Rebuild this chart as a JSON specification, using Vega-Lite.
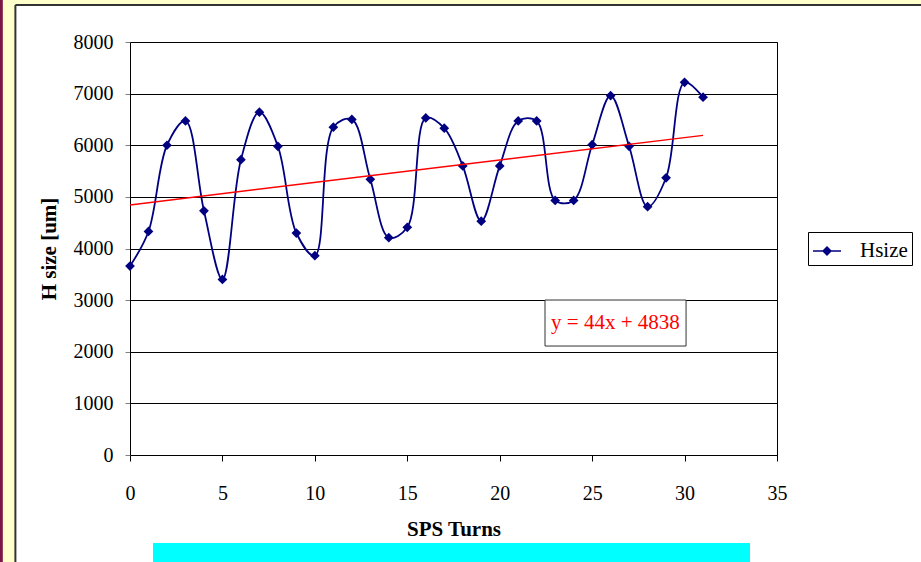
{
  "$schema": "https://vega.github.io/schema/vega-lite/v6.json",
  "width": 647,
  "height": 413,
  "autosize": {"type": "none"},
  "padding": {"left": 130, "top": 42, "right": 144, "bottom": 107},
  "background": "white",
  "config": {
    "font": "Times New Roman, Liberation Serif, serif",
    "view": {"stroke": "#000", "strokeWidth": 1},
    "axis": {"labelFont": "Times New Roman, Liberation Serif, serif", "titleFont": "Times New Roman, Liberation Serif, serif", "labelColor": "#000", "titleColor": "#000"},
    "legend": {"labelFont": "Times New Roman, Liberation Serif, serif"},
    "text": {"font": "Times New Roman, Liberation Serif, serif"}
  },
  "datasets": {
    "hsize": [
      {"turn": 0, "hsize": 3660}, {"turn": 1, "hsize": 4330}, {"turn": 2, "hsize": 6000}, {"turn": 3, "hsize": 6470},
      {"turn": 4, "hsize": 4730}, {"turn": 5, "hsize": 3400}, {"turn": 6, "hsize": 5720}, {"turn": 7, "hsize": 6640},
      {"turn": 8, "hsize": 5980}, {"turn": 9, "hsize": 4300}, {"turn": 10, "hsize": 3860}, {"turn": 11, "hsize": 6350},
      {"turn": 12, "hsize": 6500}, {"turn": 13, "hsize": 5340}, {"turn": 14, "hsize": 4210}, {"turn": 15, "hsize": 4410},
      {"turn": 16, "hsize": 6530}, {"turn": 17, "hsize": 6330}, {"turn": 18, "hsize": 5600}, {"turn": 19, "hsize": 4530},
      {"turn": 20, "hsize": 5600}, {"turn": 21, "hsize": 6470}, {"turn": 22, "hsize": 6470}, {"turn": 23, "hsize": 4930},
      {"turn": 24, "hsize": 4930}, {"turn": 25, "hsize": 6010}, {"turn": 26, "hsize": 6960}, {"turn": 27, "hsize": 5980},
      {"turn": 28, "hsize": 4810}, {"turn": 29, "hsize": 5370}, {"turn": 30, "hsize": 7220}, {"turn": 31, "hsize": 6930}
    ],
    "one": [{"k": 1}]
  },
  "layer": [
    {
      "data": {"name": "one"},
      "mark": {"type": "rect", "fill": "#FFFFCC", "strokeWidth": 0},
      "encoding": {"x": {"datum": -7.2}, "x2": {"datum": -6.2}, "y": {"datum": 9200}, "y2": {"datum": -3000}}
    },
    {
      "data": {"name": "one"},
      "mark": {"type": "rect", "fill": "#FFFFCC", "strokeWidth": 0},
      "encoding": {"x": {"datum": -7.2}, "x2": {"datum": 50}, "y": {"datum": 9200}, "y2": {"datum": 8717}}
    },
    {
      "data": {"name": "one"},
      "mark": {"type": "rect", "fill": "#7A1848", "strokeWidth": 0},
      "encoding": {"x": {"datum": -7.2}, "x2": {"datum": -6.88}, "y": {"datum": 9200}, "y2": {"datum": -3000}}
    },
    {
      "data": {"name": "one"},
      "mark": {"type": "rule", "color": "#333333", "strokeWidth": 2},
      "encoding": {"x": {"datum": -6.2}, "y": {"datum": 8717}, "y2": {"datum": -3000}}
    },
    {
      "data": {"name": "one"},
      "mark": {"type": "rule", "color": "#333333", "strokeWidth": 2},
      "encoding": {"x": {"datum": -6.2}, "x2": {"datum": 50}, "y": {"datum": 8717}}
    },
    {
      "data": {"name": "one"},
      "mark": {"type": "rect", "fill": "#00FFFF", "strokeWidth": 0},
      "encoding": {"x": {"datum": 1.244}, "x2": {"datum": 33.54}, "y": {"datum": -1704}, "y2": {"datum": -2600}}
    },
    {
      "data": {"name": "hsize"},
      "mark": {
        "type": "line",
        "interpolate": "catmull-rom",
        "strokeWidth": 1.8,
        "point": {"shape": "diamond", "size": 95, "filled": true, "color": "#000080"}
      },
      "encoding": {
        "x": {
          "field": "turn", "type": "quantitative",
          "scale": {"domain": [0, 35], "nice": false, "zero": false},
          "axis": {
            "values": [0, 5, 10, 15, 20, 25, 30, 35],
            "grid": false,
            "title": "SPS Turns",
            "titleFontSize": 21,
            "titleFontWeight": "bold",
            "titlePadding": 15,
            "labelFontSize": 20,
            "labelPadding": 22,
            "tickSize": 6,
            "tickColor": "#000",
            "domainColor": "#000",
            "labelFlush": false
          }
        },
        "y": {
          "field": "hsize", "type": "quantitative",
          "scale": {"domain": [0, 8000], "nice": false},
          "axis": {
            "values": [0, 1000, 2000, 3000, 4000, 5000, 6000, 7000, 8000],
            "grid": true,
            "gridColor": "#000",
            "gridOpacity": 1,
            "gridWidth": 1,
            "title": "H size [um]",
            "titleFontSize": 21,
            "titleFontWeight": "bold",
            "titlePadding": 14,
            "labelFontSize": 20,
            "labelPadding": 12,
            "tickSize": 5,
            "tickColor": "#808080",
            "domainColor": "#000",
            "labelFlush": false,
            "format": "d"
          }
        },
        "color": {
          "datum": "Hsize",
          "scale": {"range": ["#000080"]},
          "legend": {
            "title": null,
            "orient": "none",
            "legendX": 678,
            "legendY": 190,
            "strokeColor": "#000",
            "fillColor": "#fff",
            "padding": 4,
            "labelOffset": 18,
            "labelFontSize": 21,
            "labelColor": "#000",
            "symbolType": "M-1,0H1M0,-0.28L0.28,0L0,0.28L-0.28,0Z",
            "symbolSize": 784,
            "symbolStrokeWidth": 1.5,
            "symbolStrokeColor": "#000080",
            "symbolFillColor": "#000080"
          }
        }
      }
    },
    {
      "data": {"name": "hsize"},
      "transform": [{"regression": "hsize", "on": "turn"}],
      "mark": {"type": "line", "color": "#FF0000", "strokeWidth": 1.5},
      "encoding": {
        "x": {"field": "turn", "type": "quantitative"},
        "y": {"field": "hsize", "type": "quantitative"}
      }
    },
    {
      "data": {"name": "one"},
      "mark": {"type": "rect", "fill": "white", "stroke": "#333333", "strokeWidth": 1},
      "encoding": {"x": {"datum": 22.45}, "x2": {"datum": 30.08}, "y": {"datum": 3002}, "y2": {"datum": 2111}}
    },
    {
      "data": {"name": "one"},
      "mark": {"type": "text", "color": "#FF0000", "fontSize": 21, "align": "center", "baseline": "middle"},
      "encoding": {"x": {"datum": 26.26}, "y": {"datum": 2557}, "text": {"value": "y = 44x + 4838"}}
    }
  ]
}
